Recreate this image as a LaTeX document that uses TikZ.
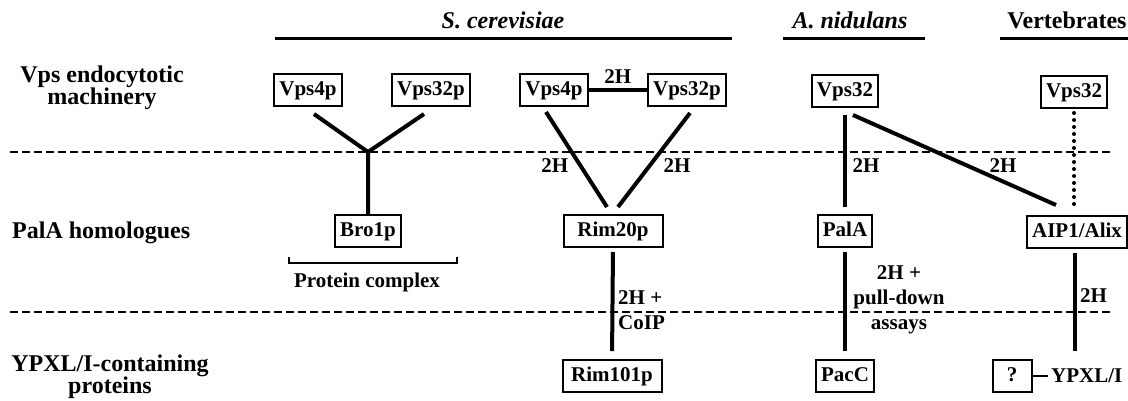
\documentclass[tikz,border=0pt]{standalone}
\usepackage{fontspec}
\setmainfont{Liberation Serif}
\usetikzlibrary{calc}
\begin{document}
\begin{tikzpicture}[x=1pt,y=-1pt,
  box/.style={draw,line width=2pt,font=\fontsize{21}{23}\selectfont\bfseries,inner xsep=5pt,inner ysep=0pt,minimum height=32pt,text height=14.5pt,text depth=4.5pt},
  lab/.style={font=\fontsize{21}{25}\selectfont\bfseries,inner sep=0pt},
  rowlab/.style={font=\fontsize{24}{22}\selectfont\bfseries,align=center,inner sep=0pt},
  ttl/.style={font=\fontsize{24}{28}\selectfont\bfseries,inner sep=0pt},
  conn/.style={line width=4pt},
  sepline/.style={line width=1.5pt,dash pattern=on 8pt off 4pt},
  uline/.style={line width=3pt},
  dotline/.style={line width=4pt,line cap=round,dash pattern=on 0pt off 7pt},
  ]
\useasboundingbox (0,0) rectangle (1128,400);

% titles
\node[ttl,anchor=base] (t1) at (503,28) {\itshape S. cerevisiae};
\node[ttl,anchor=base] (t2) at (850,28) {\itshape A. nidulans};
\node[ttl,anchor=base] (t3) at (1067,28) {Vertebrates};
\draw[uline] (275,38) -- (732,38);
\draw[uline] (783,38) -- (925,38);
\draw[uline] (1000,38) -- (1128,38);

% separators
\draw[sepline] (10,152) -- (1113,152);
\draw[sepline] (10,312) -- (1113,312);

% row labels
\node[rowlab,anchor=north] (r1) at (102,66) {Vps endocytotic\\machinery};
\node[rowlab,anchor=base west] (r2) at (12,238) {PalA homologues};
\node[rowlab,anchor=north] (r3) at (110,355) {YPXL/I-containing\\proteins};

% boxes
\node[box] (a1) at (308,90) {Vps4p};
\node[box] (b1) at (431,90) {Vps32p};
\node[box] (bro) at (368,231) {Bro1p};
\node[box] (a2) at (554,90) {Vps4p};
\node[box] (b2) at (687,90) {Vps32p};
\node[box,minimum width=99pt] (rim20) at (613,231) {Rim20p};
\node[box,minimum width=99pt] (rim101) at (612,376) {Rim101p};
\node[box] (v3) at (845,91) {Vps32};
\node[box] (pala) at (845,231) {PalA};
\node[box] (pacc) at (845,376) {PacC};
\node[box] (v4) at (1074,92) {Vps32};
\node[box] (aip) at (1077,232) {AIP1/Alix};
\node[box,minimum width=39pt] (q) at (1012,376) {?};
\node[lab,anchor=west] (ypxl) at (1051,376) {YPXL/I};

% Bro1p complex
\coordinate (yj) at (368,152);
\draw[conn] ($(a1.south)+(6,7)$) -- (yj) -- (bro.north);
\draw[conn] ($(b1.south)+(-7,7)$) -- (yj);
\draw[line width=2.5pt] (289,257) -- (289,263) -- (457,263) -- (457,257);
\node[lab,anchor=base] (pc) at (367,287) {Protein complex};

% S. cerevisiae Rim
\draw[conn] (a2) -- (b2) node[midway,above=5pt,lab] {2H};
\draw[conn] ($(a2.south)+(-8,5)$) -- ($(rim20.north)+(-6,-7)$)
  node[pos=0.5625,anchor=east,xshift=-10pt,lab] {2H};
\draw[conn] ($(b2.south)+(3,6)$) -- ($(rim20.north)+(5,-7)$)
  node[pos=0.5625,anchor=west,xshift=12pt,lab] {2H};
\draw[conn,shorten <=4pt,shorten >=8pt] (rim20.south) -- (rim101.north);
\node[lab,anchor=north west,align=left] (l5) at (618,290) {2H +\\CoIP};

% A. nidulans
\draw[conn,shorten <=7pt,shorten >=7pt] (v3) -- (pala);
\node[lab] (l6) at (866,166) {2H};
\draw[conn] ($(v3.south)+(8,7)$) -- ($(aip.north)+(-21,-10)$);
\node[lab] (l7) at (1003,166) {2H};
\draw[conn,shorten <=4pt,shorten >=8pt] (pala.south) -- (pacc.north);
\node[lab,anchor=north,align=center] (l8) at (899,265) {2H +\\pull-down\\assays};

% Vertebrates
\draw[dotline] ($(v4.south)+(0,4)$) -- ($(aip.north -| v4.south)+(0,-6)$);
\draw[conn] ($(aip.south)+(-2,4)$) -- ($(q.north -| aip.south)+(-2,-8)$);
\node[lab,anchor=west] (l9) at (1080,296) {2H};
\draw[line width=2.5pt,shorten >=3pt] (q.east) -- (ypxl.west);
\end{tikzpicture}
\end{document}
